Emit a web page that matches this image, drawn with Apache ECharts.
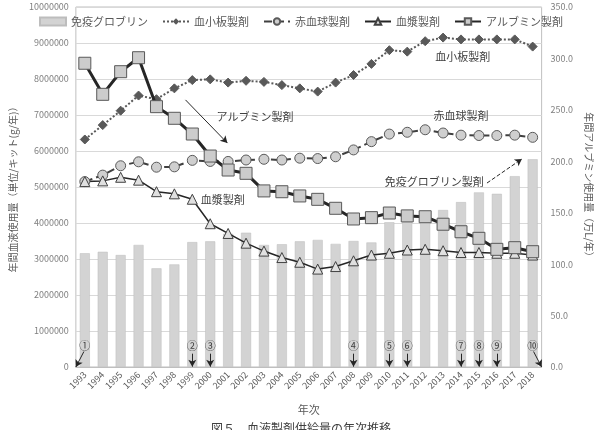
<!DOCTYPE html>
<html>
<head>
<meta charset="utf-8">
<script src="https://cdn.jsdelivr.net/npm/echarts@6/dist/echarts.min.js"></script>
<style>
  html, body { margin: 0; padding: 0; background: #fff; }
  #chart { width: 602px; height: 430px; }
</style>
</head>
<body>
<div id="chart"></div>
<script>
var years = ['1993','1994','1995','1996','1997','1998','1999','2000','2001','2002','2003','2004','2005',
             '2006','2007','2008','2009','2010','2011','2012','2013','2014','2015','2016','2017','2018'];
// 免疫グロブリン (left axis)
var globulin = [3160000,3200000,3110000,3390000,2740000,2850000,3470000,3490000,3700000,3730000,3390000,3410000,3490000,
                3530000,3420000,3500000,3460000,4020000,4080000,4160000,4360000,4580000,4850000,4810000,5300000,5770000];
// 血小板製剤
var platelet = [6320000,6720000,7120000,7540000,7440000,7740000,7970000,7990000,7900000,7950000,7920000,7830000,7740000,
                7650000,7900000,8110000,8420000,8800000,8760000,9050000,9150000,9100000,9100000,9100000,9100000,8900000];
// 赤血球製剤
var redcell = [5150000,5330000,5590000,5700000,5550000,5560000,5740000,5710000,5710000,5750000,5770000,5750000,5800000,
               5790000,5840000,6030000,6260000,6470000,6520000,6590000,6500000,6440000,6430000,6430000,6440000,6380000];
// 血漿製剤
var plasma = [5150000,5170000,5270000,5190000,4870000,4810000,4660000,3980000,3710000,3440000,3220000,3040000,2910000,
              2720000,2790000,2950000,3110000,3160000,3250000,3270000,3230000,3180000,3180000,3160000,3160000,3110000];
// アルブミン製剤 (right axis, 万L/年)
var albumin = [295.3,265.1,287.1,300.7,253.1,241.8,226.5,205.1,191.5,188.3,171.2,170.4,166.3,
               163.0,154.3,143.9,145.2,149.7,146.9,146.1,138.8,131.5,125.1,114.4,116.0,112.1];
var leftTicks = { min: 0, max: 10000000, interval: 1000000 };
var rightTicks = { min: 0, max: 350, interval: 50 };
// 改定等のイベント番号（年次の位置 = 1993からの番号）
var events = [['①',0],['②',6],['③',7],['④',15],['⑤',17],['⑥',18],
              ['⑦',21],['⑧',22],['⑨',23],['⑩',25]];

var font = '"Noto Sans CJK JP", "Noto Sans", sans-serif';
var txt = '#595959';

var noteLabels = [
    { name: '血小板製剤', coord: [21.1, 8610000] },
    { name: '赤血球製剤', coord: [21.0, 6970000] },
    { name: '免疫グロブリン製剤', coord: [19.5, 5150000] },
    { name: 'アルブミン製剤', coord: [9.5, 6940000] },
    { name: '血漿製剤', coord: [7.7, 4640000] }
];

var eventMarks = [];
var eventArrows = [];
events.forEach(function (e) {
    var i = e[1];
    eventMarks.push({ name: e[0], coord: [i, 580000] });
    if (i === 0) {
        eventArrows.push([{ coord: [-0.05, 430000] }, { coord: [-0.5, 0] }]);
    } else if (i === 25) {
        eventArrows.push([{ coord: [25.05, 430000] }, { coord: [25.5, 0] }]);
    } else {
        eventArrows.push([{ coord: [i, 370000] }, { coord: [i, 10000] }]);
    }
});

var myChart = echarts.init(document.getElementById('chart'));
var option = {
    animation: false,
    textStyle: { fontFamily: font },
    title: {
        text: '図５　血液製剤供給量の年次推移',
        left: 'center',
        top: 417,
        textStyle: { fontSize: 12, fontWeight: 'normal', color: '#404040', fontFamily: font }
    },
    legend: {
        top: 11,
        left: 'center',
        itemGap: 14,
        itemWidth: 26,
        itemHeight: 8,
        textStyle: { fontSize: 11, color: txt, fontFamily: font },
        data: [
            { name: '免疫グロブリン', icon: 'rect' },
            { name: '血小板製剤' },
            { name: '赤血球製剤' },
            { name: '血漿製剤' },
            { name: 'アルブミン製剤' }
        ]
    },
    grid: {
        left: 62, right: 50, top: 7, bottom: 63,
        show: true, borderColor: '#bfbfbf', borderWidth: 1
    },
    xAxis: [
        {
            type: 'category',
            data: years,
            name: '年次',
            nameLocation: 'middle',
            nameGap: 37,
            nameTextStyle: { fontSize: 11, color: txt },
            axisTick: { show: false },
            axisLine: { lineStyle: { color: '#bfbfbf' } },
            axisLabel: { rotate: 45, fontSize: 9, color: txt, margin: 6, interval: 0 }
        },
        {
            // helper axis for annotations placed between categories
            type: 'value',
            min: -0.5, max: years.length - 0.5,
            show: false,
            splitLine: { show: false }
        }
    ],
    yAxis: [
        {
            type: 'value',
            min: leftTicks.min, max: leftTicks.max, interval: leftTicks.interval,
            name: '年間血液使用量（単位/キット(g/年)）',
            nameLocation: 'middle',
            nameGap: 54,
            nameTextStyle: { fontSize: 10, color: txt },
            axisLine: { show: false },
            axisTick: { show: false },
            splitLine: { lineStyle: { color: '#d9d9d9' } },
            axisLabel: {
                fontSize: 9, color: '#7f7f7f', margin: 7,
                formatter: function (v) { return String(v); }
            }
        },
        {
            type: 'value',
            min: rightTicks.min, max: rightTicks.max, interval: rightTicks.interval,
            name: '年間アルブミン使用量（万L/年）',
            nameLocation: 'middle',
            nameGap: 41,
            nameRotate: -90,
            nameTextStyle: { fontSize: 10, color: txt },
            axisLine: { show: false },
            axisTick: { show: false },
            splitLine: { show: false },
            axisLabel: {
                fontSize: 9, color: '#7f7f7f', margin: 9,
                formatter: function (v) { return v.toFixed(1); }
            }
        }
    ],
    series: [
        {
            name: '免疫グロブリン',
            type: 'bar',
            data: globulin,
            barWidth: 10,
            itemStyle: { color: '#d3d3d3', borderColor: '#bdbdbd', borderWidth: 0.5 },
            z: 1
        },
        {
            name: '血小板製剤',
            type: 'line',
            data: platelet,
            symbol: 'diamond',
            symbolSize: 9,
            lineStyle: { color: '#595959', width: 2, type: 'dotted' },
            itemStyle: { color: '#595959', borderColor: '#595959' },
            z: 3
        },
        {
            name: '赤血球製剤',
            type: 'line',
            data: redcell,
            symbol: 'circle',
            symbolSize: 10,
            lineStyle: { color: '#404040', width: 2, type: 'dashed' },
            itemStyle: { color: '#cfcfcf', borderColor: '#595959', borderWidth: 1 },
            z: 3
        },
        {
            name: '血漿製剤',
            type: 'line',
            data: plasma,
            symbol: 'triangle',
            symbolSize: 10,
            lineStyle: { color: '#262626', width: 1.5 },
            itemStyle: { color: '#e0e0e0', borderColor: '#404040', borderWidth: 1 },
            z: 3
        },
        {
            name: 'アルブミン製剤',
            type: 'line',
            yAxisIndex: 1,
            data: albumin,
            symbol: 'rect',
            symbolSize: 12,
            lineStyle: { color: '#262626', width: 3 },
            itemStyle: { color: '#cccccc', borderColor: '#595959', borderWidth: 1 },
            z: 4
        },
        {
            name: 'notes',
            type: 'scatter',
            xAxisIndex: 1,
            yAxisIndex: 0,
            data: [],
            silent: true,
            z: 5,
            markPoint: {
                symbol: 'circle',
                symbolSize: 0,
                silent: true,
                label: { show: true, formatter: '{b}', fontSize: 11, color: '#404040', position: 'inside' },
                data: eventMarks.concat(noteLabels.map(function (n) {
                    return { name: n.name, coord: n.coord, label: { fontSize: 11, color: '#404040' } };
                }))
            },
            markLine: {
                silent: true,
                symbol: ['none', 'arrow'],
                symbolSize: [6, 7],
                label: { show: false },
                lineStyle: { color: '#262626', width: 1, type: 'solid' },
                data: eventArrows.concat([
                    [{ coord: [5.62, 7420000] }, { coord: [7.96, 6220000] }],
                    [{ coord: [22.45, 5110000], lineStyle: { type: 'dashed' } }, { coord: [24.4, 5780000] }]
                ])
            }
        }
    ]
};
myChart.setOption(option);
</script>
</body>
</html>
